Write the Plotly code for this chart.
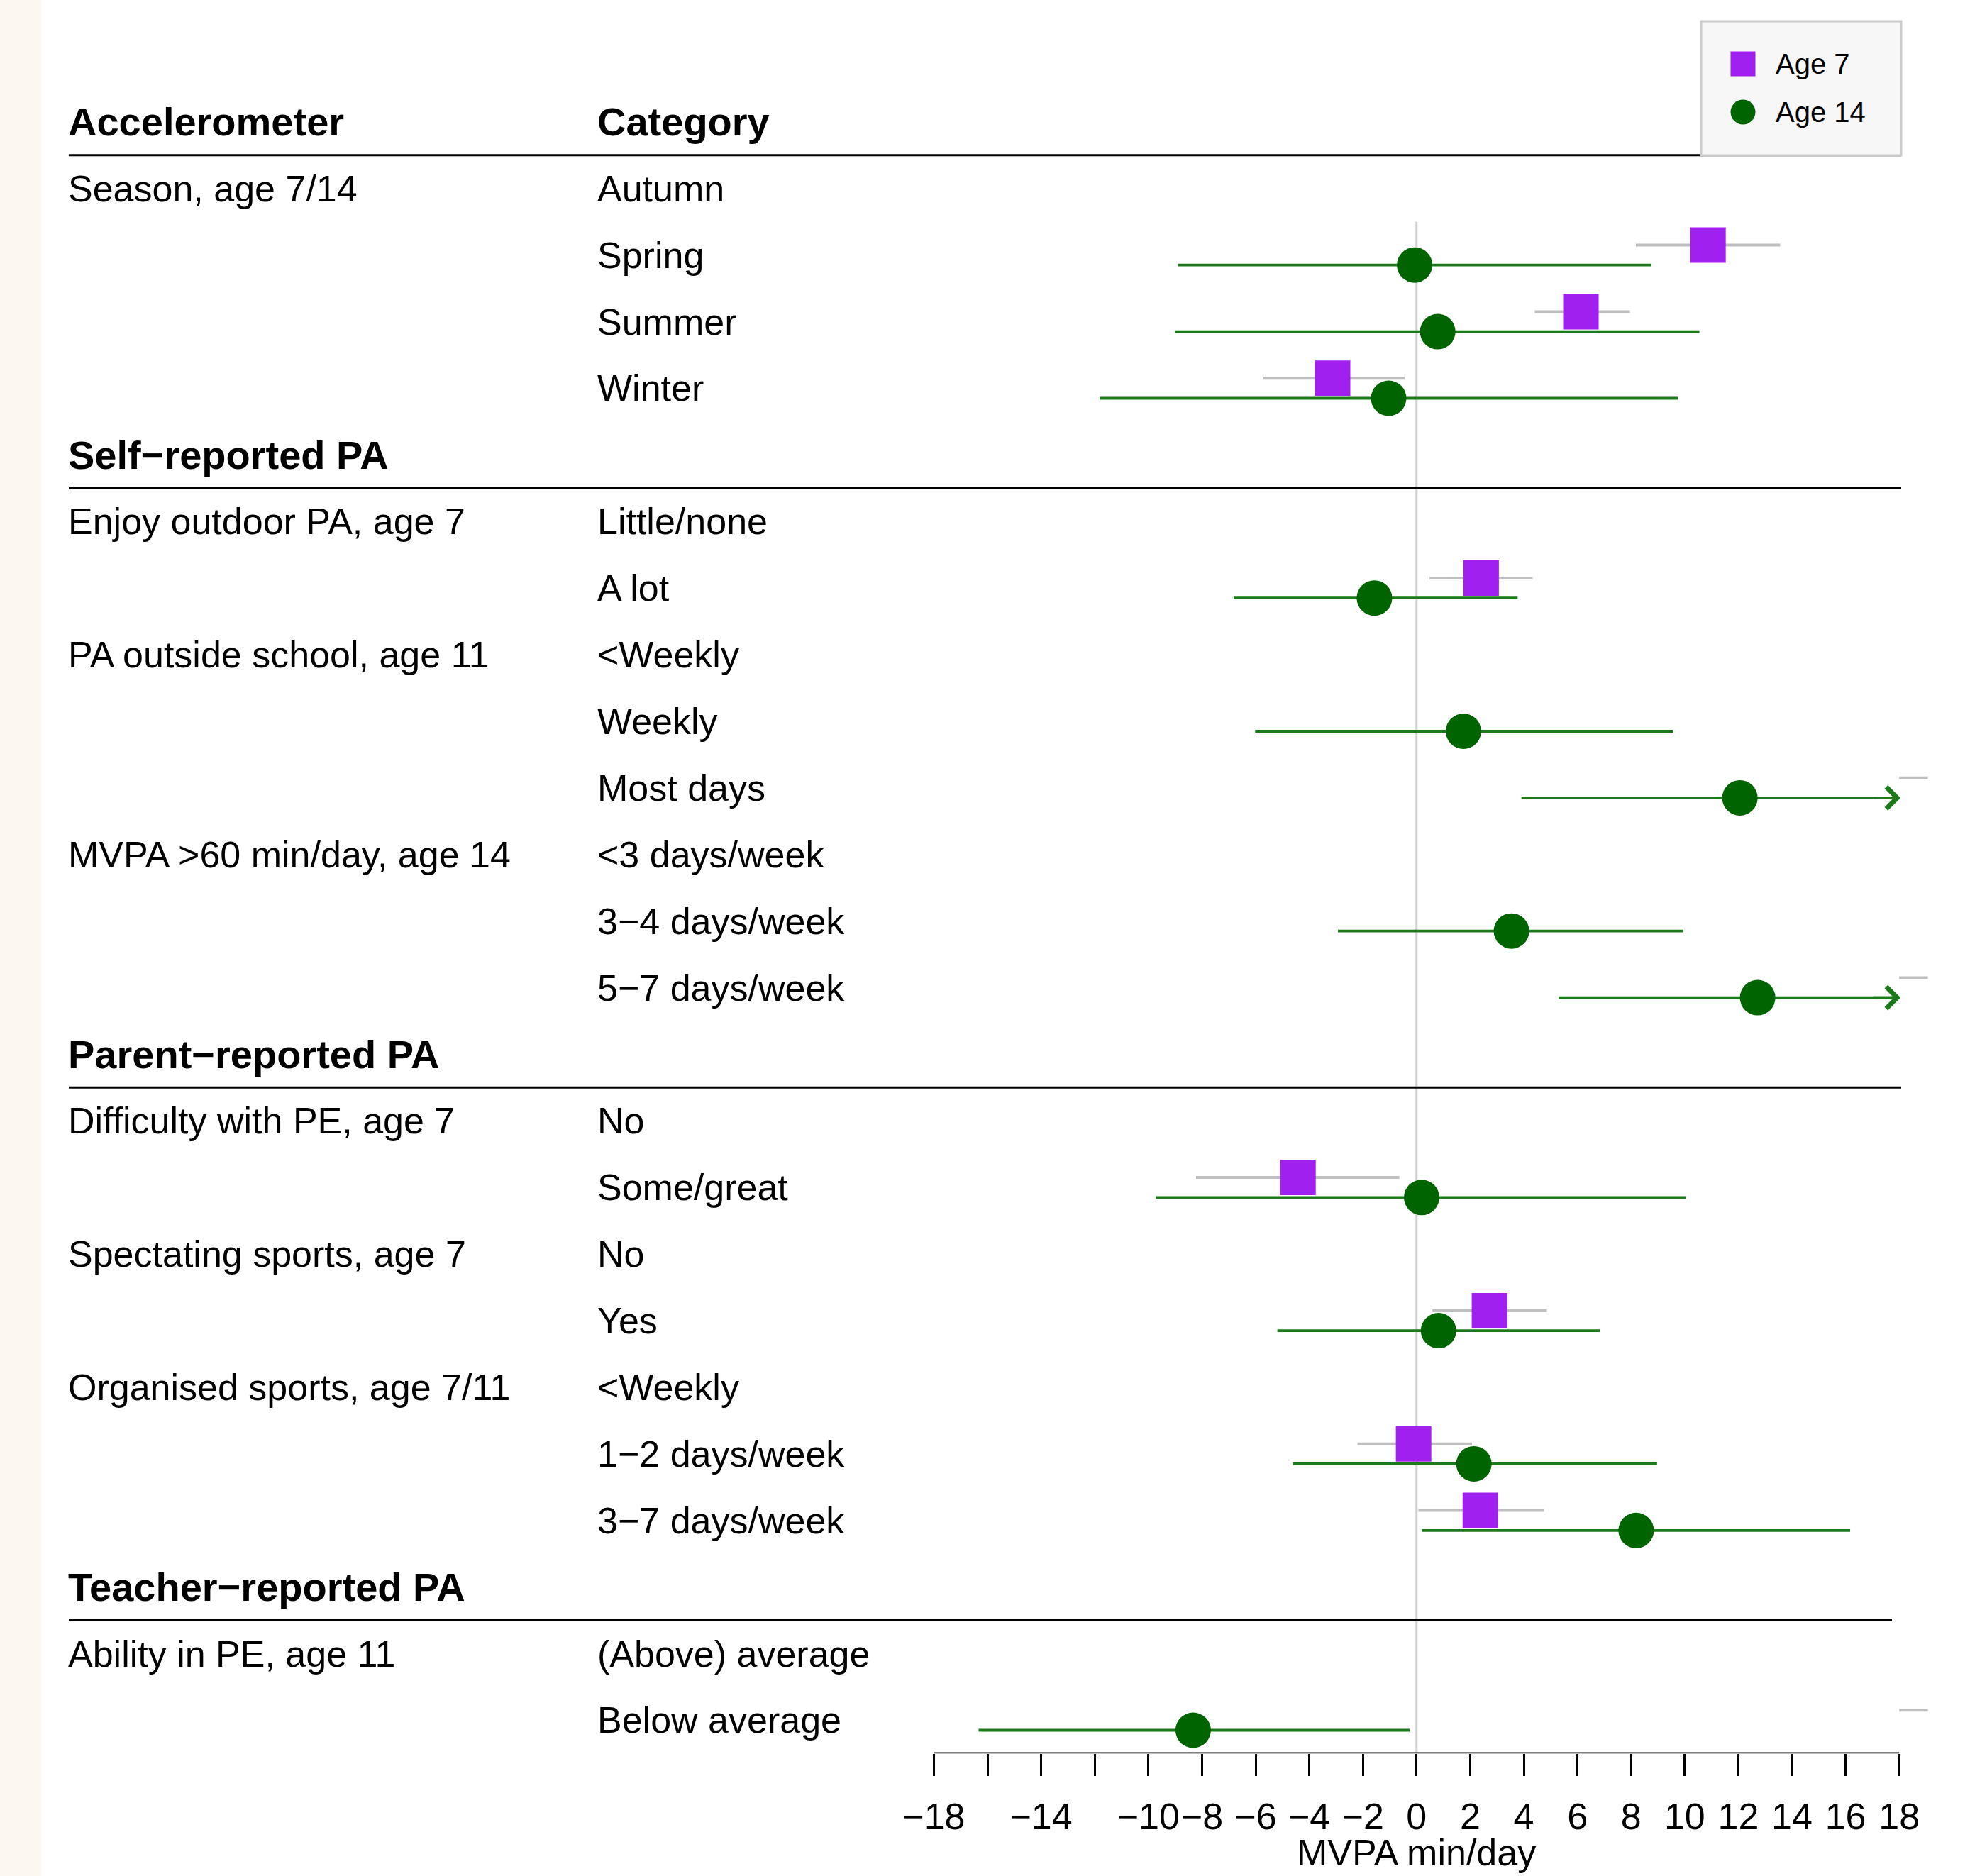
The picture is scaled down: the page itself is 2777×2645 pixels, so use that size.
import plotly.graph_objects as go

# ---------------- data ----------------
# row index 0 = column header row; rows 1..24 = table rows
var_labels = ["Season, age 7/14", "", "", "", None,
              "Enjoy outdoor PA, age 7", "", "PA outside school, age 11", "", "",
              "MVPA &gt;60 min/day, age 14", "", "", None,
              "Difficulty with PE, age 7", "", "Spectating sports, age 7", "",
              "Organised sports, age 7/11", "", "", None,
              "Ability in PE, age 11", ""]
cat_labels = ["Autumn", "Spring", "Summer", "Winter", None,
              "Little/none", "A lot", "&lt;Weekly", "Weekly", "Most days",
              "&lt;3 days/week", "3−4 days/week", "5−7 days/week", None,
              "No", "Some/great", "No", "Yes",
              "&lt;Weekly", "1−2 days/week", "3−7 days/week", None,
              "(Above) average", "Below average"]
section_headers = {5: "Self−reported PA", 14: "Parent−reported PA", 22: "Teacher−reported PA"}
column_headers = ["Accelerometer", "Category"]

# Age 7 estimates (MVPA min/day) and 95% CI, per table row (None = not shown)
age7_est = [None, 10.87, 6.13, -3.13, None, None, 2.41, None, None, None,
            None, None, None, None, None, -4.42, None, 2.72, None, -0.11, 2.38, None, None, None]
age7_lo = [None, 8.18, 4.41, -5.71, None, None, 0.49, None, None, 18.0,
           None, None, 18.0, None, None, -8.22, None, 0.59, None, -2.20, 0.07, None, None, 18.0]
age7_hi = [None, 13.56, 7.96, -0.44, None, None, 4.33, None, None, 19.07,
           None, None, 19.07, None, None, -0.64, None, 4.86, None, 2.07, 4.76, None, None, 19.07]
# Age 14
age14_est = [None, -0.07, 0.79, -1.04, None, None, -1.57, None, 1.75, 12.06,
             None, 3.54, 12.72, None, None, 0.19, None, 0.82, None, 2.14, 8.19, None, None, -8.33]
age14_lo = [None, -8.90, -9.01, -11.81, None, None, -6.82, None, -6.02, 3.91,
            None, -2.93, 5.30, None, None, -9.72, None, -5.19, None, -4.61, 0.20, None, None, -16.33]
age14_hi = [None, 8.76, 10.55, 9.75, None, None, 3.77, None, 9.57, 20.2,
            None, 9.95, 20.1, None, None, 10.04, None, 6.84, None, 8.97, 16.17, None, None, -0.26]

tick_vals = list(range(-18, 19, 2))
tick_text = [("" if v in (-16, -12) else (str(v).replace("-", "−"))) for v in tick_vals]
x_min, x_max = -18, 18

# ---------------- geometry ----------------
W, H = 2777, 2645
FONT = "Liberation Sans, Arial, Helvetica, sans-serif"
PX0, UNIT = 1996.8, 37.8          # pixel of x=0, pixels per unit
ROW0, ROWH = 171.8, 93.9          # pixel of row 0, pixels per row
OFF = 0.15                         # vertical offset between the two ages

def px(xp):
    return xp / W

def py(yp):
    return 1 - yp / H

x_lo_range, x_hi_range = x_min, 19.5
xdom = [px(PX0 + x_lo_range * UNIT), px(PX0 + x_hi_range * UNIT)]
y_bottom_row = 24.5
y_top_row = -ROW0 / ROWH
ydom = [py(ROW0 + y_bottom_row * ROWH), 1.0]

rows = list(range(1, 25))

fig = go.Figure()

# Age 7 CI lines
xs, ys = [], []
for r, lo, hi in zip(rows, age7_lo, age7_hi):
    if lo is None:
        continue
    xs += [lo, hi, None]
    ys += [r - OFF, r - OFF, None]
fig.add_trace(go.Scatter(x=xs, y=ys, mode="lines", line=dict(color="#bfbfbf", width=4),
                         showlegend=False, hoverinfo="skip"))
# Age 7 points
fig.add_trace(go.Scatter(x=[e for e in age7_est if e is not None],
                         y=[r - OFF for r, e in zip(rows, age7_est) if e is not None],
                         mode="markers", name="Age 7",
                         marker=dict(symbol="square", size=50, color="#A020F0", line=dict(width=0)),
                         showlegend=False))
# Age 14 CI lines (clipped to axis with arrows)
xs, ys = [], []
arrows = []
for r, lo, hi in zip(rows, age14_lo, age14_hi):
    if lo is None:
        continue
    h = hi
    if hi > x_max:
        h = x_max
        arrows.append(r + OFF)
    xs += [lo, h, None]
    ys += [r + OFF, r + OFF, None]
fig.add_trace(go.Scatter(x=xs, y=ys, mode="lines", line=dict(color="#1c7a1c", width=3.8),
                         showlegend=False, hoverinfo="skip"))
fig.add_trace(go.Scatter(x=[e for e in age14_est if e is not None],
                         y=[r + OFF for r, e in zip(rows, age14_est) if e is not None],
                         mode="markers", name="Age 14",
                         marker=dict(symbol="circle", size=50, color="#006400", line=dict(width=0)),
                         showlegend=False))

annotations = []
shapes = []

for yv in arrows:
    annotations.append(dict(x=x_max + 0.05, y=yv, xref="x", yref="y", ax=x_max - 1.0, ay=yv,
                            axref="x", ayref="y", text="", showarrow=True, arrowhead=4,
                            arrowsize=1.7, arrowwidth=3.5, arrowcolor="#1c7a1c"))

# left cream strip
shapes.append(dict(type="rect", xref="paper", yref="paper", x0=0, x1=px(58), y0=0, y1=1,
                   fillcolor="#FCF7F1", line=dict(width=0), layer="below"))

# zero line
shapes.append(dict(type="line", xref="x", yref="y", x0=0, x1=0, y0=1.5, y1=y_bottom_row,
                   line=dict(color="#cfcfcf", width=3), layer="below"))
# axis line
shapes.append(dict(type="line", xref="x", yref="y", x0=x_min, x1=x_max, y0=y_bottom_row,
                   y1=y_bottom_row, line=dict(color="black", width=3.5)))

# section separator lines
for rr, xend in [(0.5, 2680), (5.5, 2680), (14.5, 2680), (22.5, 2667)]:
    shapes.append(dict(type="line", xref="paper", yref="y", x0=px(97), x1=px(xend),
                       y0=rr, y1=rr, line=dict(color="black", width=3)))

COL1, COL2 = px(94), px(840)
bold_font = dict(family=FONT, size=56, color="black")
reg_font = dict(family=FONT, size=52, color="black")

annotations.append(dict(x=COL1, y=0, xref="paper", yref="y", text="<b>%s</b>" % column_headers[0],
                        xanchor="left", yanchor="middle", showarrow=False, font=bold_font))
annotations.append(dict(x=COL2, y=0, xref="paper", yref="y", text="<b>%s</b>" % column_headers[1],
                        xanchor="left", yanchor="middle", showarrow=False, font=bold_font))
for r, txt in section_headers.items():
    annotations.append(dict(x=COL1, y=r, xref="paper", yref="y", text="<b>%s</b>" % txt,
                            xanchor="left", yanchor="middle", showarrow=False, font=bold_font))
for r, v, c in zip(rows, var_labels, cat_labels):
    if v:
        annotations.append(dict(x=COL1, y=r, xref="paper", yref="y", text=v,
                                xanchor="left", yanchor="middle", showarrow=False, font=reg_font))
    if c:
        annotations.append(dict(x=COL2, y=r, xref="paper", yref="y", text=c,
                                xanchor="left", yanchor="middle", showarrow=False, font=reg_font))

# axis title
annotations.append(dict(x=0, y=py(2612), xref="x", yref="paper", text="MVPA min/day",
                        xanchor="center", yanchor="middle", showarrow=False, font=reg_font))

# manual legend
shapes.append(dict(type="rect", xref="paper", yref="paper", x0=px(2398), x1=px(2680),
                   y0=py(219), y1=py(30), fillcolor="#f7f7f7", line=dict(color="#cccccc", width=3)))
shapes.append(dict(type="rect", xref="paper", yref="paper", x0=px(2439.5), x1=px(2474.5),
                   y0=py(107.5), y1=py(72.5), fillcolor="#A020F0", line=dict(width=0)))
shapes.append(dict(type="circle", xref="paper", yref="paper", x0=px(2439.5), x1=px(2474.5),
                   y0=py(175.5), y1=py(140.5), fillcolor="#006400", line=dict(width=0)))
leg_font = dict(family=FONT, size=40, color="black")
for txt, yy in [("Age 7", 90), ("Age 14", 158)]:
    annotations.append(dict(x=px(2501), y=py(yy), xref="paper", yref="paper", text=txt,
                            xanchor="left", yanchor="middle", showarrow=False, font=leg_font))

fig.update_layout(
    template="none",
    width=W, height=H,
    margin=dict(l=0, r=0, t=0, b=0, pad=0, autoexpand=False),
    paper_bgcolor="white", plot_bgcolor="rgba(0,0,0,0)",
    showlegend=False,
    shapes=shapes, annotations=annotations,
    font=dict(family=FONT, size=52, color="black"),
    xaxis=dict(domain=xdom, range=[x_lo_range, x_hi_range], showgrid=False, zeroline=False,
               showline=False, tickmode="array", tickvals=tick_vals, ticktext=tick_text,
               ticks="outside", ticklen=31, tickwidth=2.5, tickcolor="black", tickangle=0,
               automargin=False,
               tickfont=dict(family=FONT, size=52, color="black"), ticklabelstandoff=12),
    yaxis=dict(domain=ydom, range=[y_bottom_row, y_top_row], visible=False, showgrid=False,
               zeroline=False, automargin=False),
)

fig.write_html("out.html", config={"displayModeBar": False},
               post_script="document.body.style.margin='0';document.body.style.overflow='hidden';")
